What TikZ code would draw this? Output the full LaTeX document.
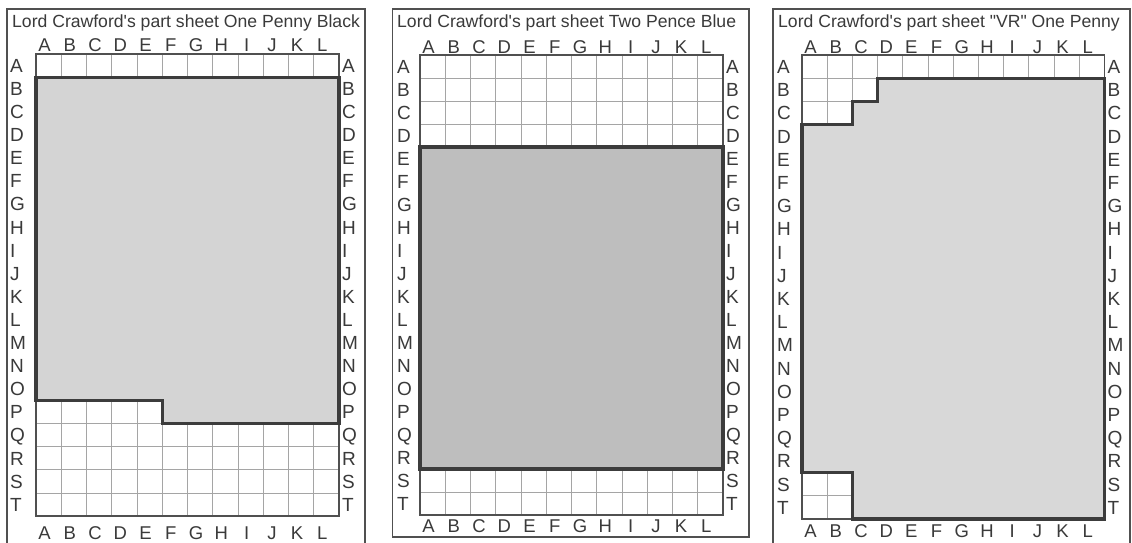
\documentclass[tikz,border=0pt]{standalone}
\usepackage{fontspec}
\setmainfont{Liberation Sans}
\definecolor{framec}{HTML}{505050}
\definecolor{gridc}{HTML}{A5A5A5}
\definecolor{edgec}{HTML}{3C3C3C}
\definecolor{fillone}{HTML}{D4D4D4}
\definecolor{filltwo}{HTML}{BEBEBE}
\definecolor{fillthree}{HTML}{D8D8D8}
\definecolor{textc}{HTML}{3A3A3A}
\tikzset{
  frame/.style={draw=framec,line width=1.4pt},
  gridin/.style={draw=gridc,line width=0.8pt},
  gridout/.style={draw=framec,line width=1.4pt},
  block/.style={draw=edgec,line width=3.2pt,line join=miter},
  collbl/.style={anchor=base,inner sep=0pt,text=textc,font=\fontsize{18.5}{18.5}\selectfont},
  rowlbl/.style={anchor=base west,inner sep=0pt,text=textc,font=\fontsize{19}{19}\selectfont},
  sheettitle/.style={anchor=base west,inner sep=0pt,text=textc,font=\fontsize{17.6}{17.6}\selectfont},
}
\newcommand\sheetgrid[5]{%
  \foreach \i in {1,...,11} \draw[gridin] (\i*#2,0) -- (\i*#2,20*#3);
  \foreach \j in {1,...,19} \draw[gridin] (0,\j*#3) -- (12*#2,\j*#3);
  \draw[gridout] (0,0) rectangle (12*#2,20*#3);
  \foreach \l [count=\i] in {A,B,C,D,E,F,G,H,I,J,K,L} {
    \node[collbl] (#1t\l) at ({(\i-0.5)*#2-4},-2) {\l};
    \node[collbl] (#1b\l) at ({(\i-0.5)*#2-4},{20*#3+#4}) {\l};
  }
  \foreach \l [count=\j] in {A,B,C,D,E,F,G,H,I,J,K,L,M,N,O,P,Q,R,S,T} {
    \node[rowlbl] (#1l\l) at (#5,{(\j-0.5)*#3+6.8}) {\l};
    \node[rowlbl] (#1r\l) at ({12*#2+3},{(\j-0.5)*#3+6.8}) {\l};
  }
}
\begin{document}
\begin{tikzpicture}[x=1pt,y=-1pt]
\useasboundingbox (0,0) rectangle (1132,543);
\fill[white] (0,0) rectangle (1132,543);

% ---------- Panel 1 ----------
\draw[frame] (7,9) rectangle (365,560);
\node[sheettitle] (title1) at (12,28) {Lord Crawford\textquotesingle s part sheet One Penny Black};
\begin{scope}[shift={(36,54)}]
  \sheetgrid{pa}{25.25}{23.1}{23}{-26}
  \filldraw[block,fill=fillone]
    (0,23.1) -- (12*25.25,23.1) -- (12*25.25,16*23.1) -- (5*25.25,16*23.1)
    -- (5*25.25,15*23.1) -- (0,15*23.1) -- cycle;
\end{scope}

% ---------- Panel 2 ----------
\draw[frame] (392.5,9) rectangle (749,537);
\node[sheettitle] (title2) at (397,28) {Lord Crawford\textquotesingle s part sheet Two Pence Blue};
\begin{scope}[shift={(420,55)}]
  \sheetgrid{pb}{25.25}{23}{17}{-23}
  \filldraw[block,fill=filltwo]
    (0,4*23) rectangle (12*25.25,18*23);
\end{scope}

% ---------- Panel 3 ----------
\draw[frame] (773,9) rectangle (1130,560);
\node[sheettitle] (title3) at (778,28) {Lord Crawford\textquotesingle s part sheet \textquotedbl VR\textquotedbl\ One Penny};
\begin{scope}[shift={(802,55)}]
  \sheetgrid{pc}{25.2}{23.2}{18}{-25}
  \filldraw[block,fill=fillthree]
    (0,3*23.2) -- (2*25.2,3*23.2) -- (2*25.2,2*23.2) -- (3*25.2,2*23.2)
    -- (3*25.2,23.2) -- (12*25.2,23.2) -- (12*25.2,20*23.2) -- (2*25.2,20*23.2)
    -- (2*25.2,18*23.2) -- (0,18*23.2) -- cycle;
\end{scope}
\end{tikzpicture}
\end{document}
